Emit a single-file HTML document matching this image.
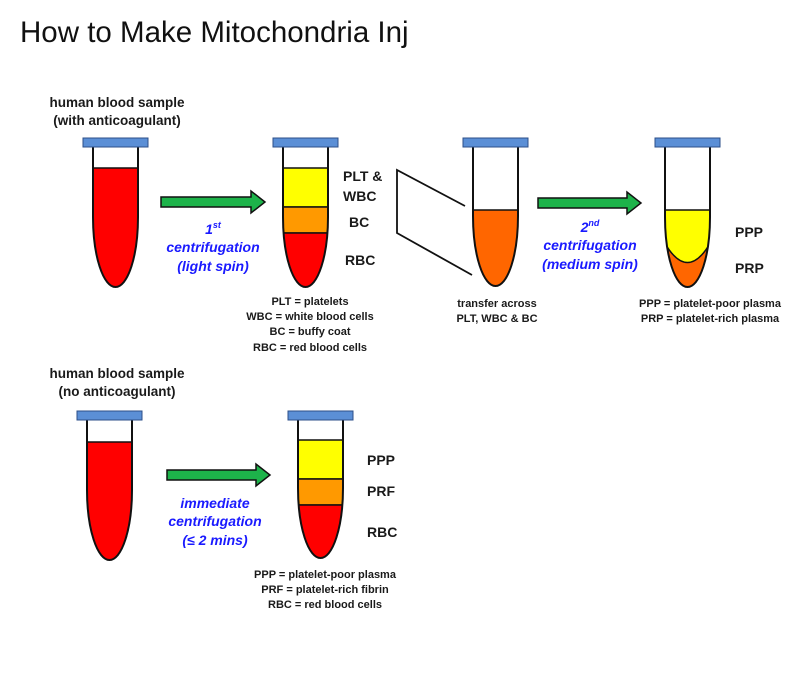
<!DOCTYPE html>
<html><head><meta charset="utf-8"><style>
body{margin:0;background:#fff;width:800px;height:700px;overflow:hidden}
svg{display:block}
.t{font-family:"Liberation Sans",sans-serif;font-weight:bold;fill:#1a1a1a}
.b{font-family:"Liberation Sans",sans-serif;font-weight:bold;font-style:italic;fill:#1a1aff;font-size:14px}
</style></head><body>
<svg id="s" width="800" height="700" xmlns="http://www.w3.org/2000/svg">
<text x="20" y="42" font-family="Liberation Sans, sans-serif" font-size="29.5" fill="#111">How to Make Mitochondria Inj</text>
<g class="t" font-size="13.5" text-anchor="middle">
<text x="117" y="107">human blood sample</text>
<text x="117" y="125">(with anticoagulant)</text>
<text x="117" y="378">human blood sample</text>
<text x="117" y="396">(no anticoagulant)</text>
</g>
<g class="t" font-size="14">
<text x="343" y="181">PLT &amp;</text>
<text x="343" y="201">WBC</text>
<text x="349" y="227">BC</text>
<text x="345" y="265">RBC</text>
<text x="735" y="237">PPP</text>
<text x="735" y="273">PRP</text>
<text x="367" y="465">PPP</text>
<text x="367" y="496">PRF</text>
<text x="367" y="537">RBC</text>
</g>
<g class="t" font-size="11" text-anchor="middle">
<text x="310" y="305">PLT = platelets</text>
<text x="310" y="320">WBC = white blood cells</text>
<text x="310" y="335">BC = buffy coat</text>
<text x="310" y="351">RBC = red blood cells</text>
<text x="497" y="307">transfer across</text>
<text x="497" y="322">PLT, WBC &amp; BC</text>
<text x="710" y="307">PPP = platelet-poor plasma</text>
<text x="710" y="322">PRP = platelet-rich plasma</text>
<text x="325" y="578">PPP = platelet-poor plasma</text>
<text x="325" y="593">PRF = platelet-rich fibrin</text>
<text x="325" y="608">RBC = red blood cells</text>
</g>
<g class="b" text-anchor="middle">
<text x="213" y="234">1<tspan font-size="9" dy="-6">st</tspan></text>
<text x="213" y="252">centrifugation</text>
<text x="213" y="271">(light spin)</text>
<text x="590" y="232">2<tspan font-size="9" dy="-6">nd</tspan></text>
<text x="590" y="250">centrifugation</text>
<text x="590" y="269">(medium spin)</text>
<text x="215" y="508">immediate</text>
<text x="215" y="526">centrifugation</text>
<text x="215" y="545">(≤ 2 mins)</text>
</g>
<g stroke="#111" stroke-width="1.8" fill="none">
<path d="M465 206 L397 170 L397 233 L472 275"/>
</g>
<g id="tubes"></g>
</svg>
<script>
var ns="http://www.w3.org/2000/svg",g=document.getElementById('tubes');
function el(t,a,p){var e=document.createElementNS(ns,t);for(var k in a)e.setAttribute(k,a[k]);(p||g).appendChild(e);return e;}
function tube(id,x0,top,bottom,layers,curved){
  var w=45,ch=70,yc=bottom-ch;
  var d="M"+x0+" "+top+" V"+yc+" A22.5 "+ch+" 0 0 0 "+(x0+w)+" "+yc+" V"+top;
  var grp=el('g',{});
  
  
  var cp=el('clipPath',{id:'c'+id},grp);el('path',{d:d+" Z"},cp);
  var fg=el('g',{'clip-path':'url(#c'+id+')'},grp);
  layers.forEach(function(L){var r=el('rect',{x:x0-2,y:L[0],width:w+4,height:L[1]-L[0],fill:L[2],stroke:'#111','stroke-width':1.5},fg);});
  if(curved){el('path',{d:"M"+(x0-2)+" "+curved[0]+" Q"+(x0+22.5)+" "+curved[1]+" "+(x0+w+2)+" "+curved[0]+" V"+(bottom+5)+" H"+(x0-2)+" Z",fill:'#ff6600',stroke:'#111','stroke-width':1.5},fg);}
  el('path',{d:d,fill:'none',stroke:'#111','stroke-width':2},grp);
  var cap=el('rect',{x:x0-10,y:top-9,width:w+20,height:9,fill:'#5b8fd6',stroke:'#2c4f88','stroke-width':1},grp);
  
  
}
function arrow(id,x1,x2,y){
  var a=el('path',{d:"M"+x1+" "+(y-5)+" H"+(x2-14)+" V"+(y-11)+" L"+x2+" "+y+" L"+(x2-14)+" "+(y+11)+" V"+(y+5)+" H"+x1+" Z",fill:'#1db34a',stroke:'#111','stroke-width':1.5});
  
  
}
tube('tube-whole-blood',93,147,287,[[168,300,'#ff0000']]);
tube('tube-separated',283,147,287,[[168,207,'#ffff00'],[207,233,'#ff9900'],[233,300,'#ff0000']]);
tube('tube-transferred',473,147,286,[[210,300,'#ff6600']]);
tube('tube-prp',665,147,287,[[210,300,'#ffff00']],[240,285]);
tube('tube-no-anticoagulant',87,420,560,[[442,570,'#ff0000']]);
tube('tube-prf',298,420,558,[[440,479,'#ffff00'],[479,505,'#ff9900'],[505,570,'#ff0000']]);
arrow('arrow-step1',161,265,202);
arrow('arrow-step2',538,641,203);
arrow('arrow-step3',167,270,475);
</script>
</body></html>
